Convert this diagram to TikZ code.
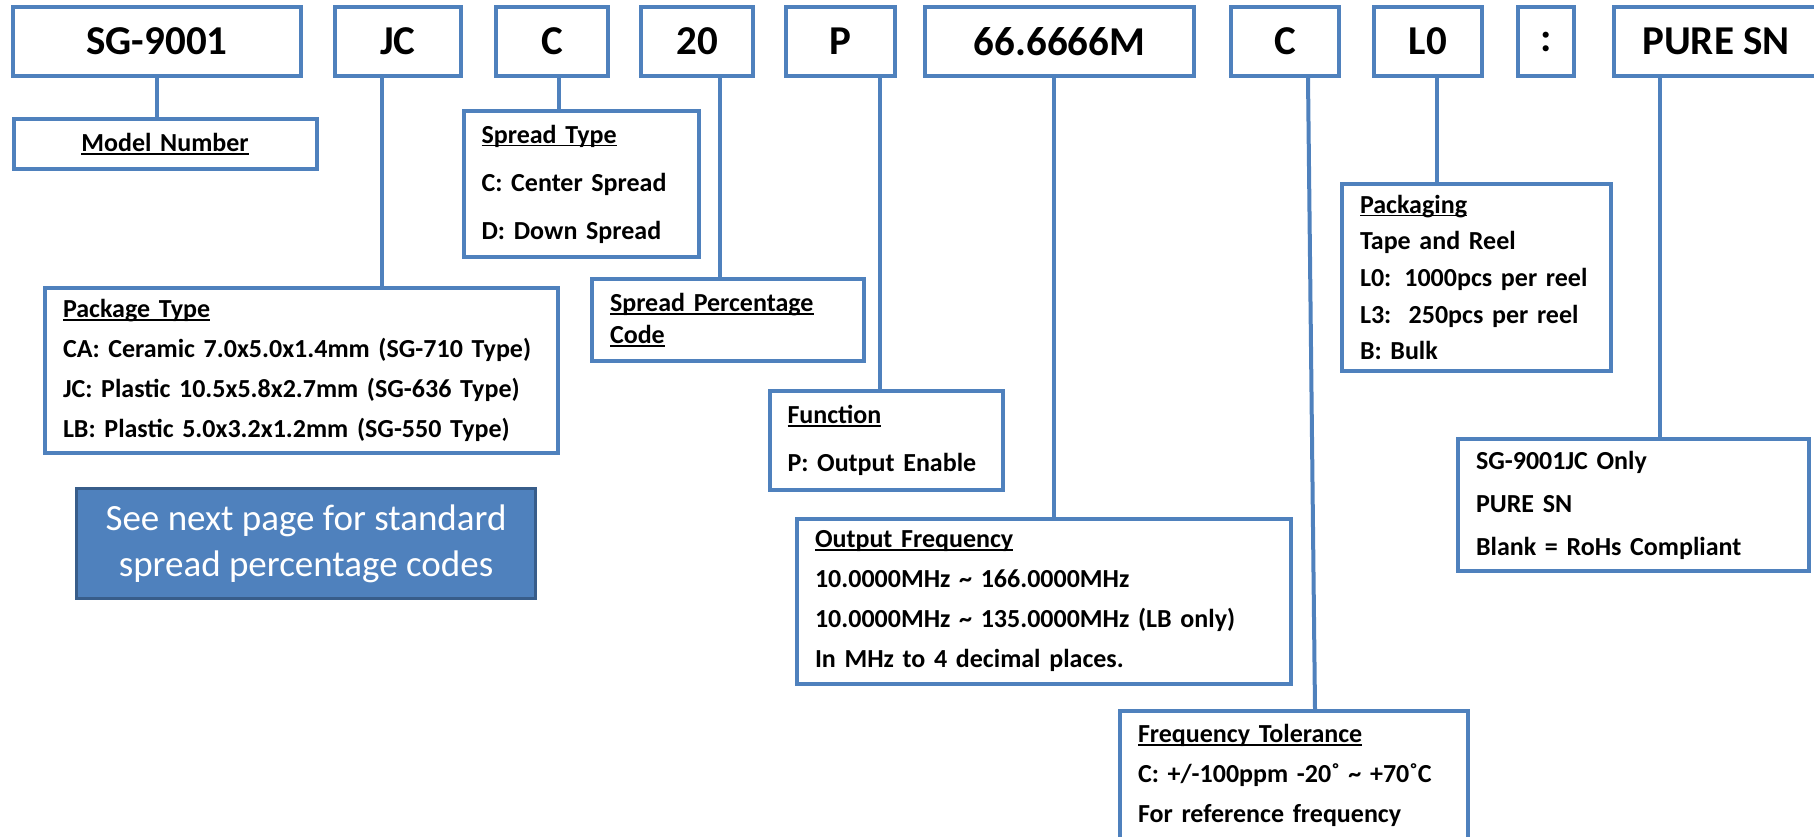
\documentclass[tikz,border=0pt]{standalone}
\usepackage{fontspec}
\setmainfont{Carlito}
\usepackage{tikz}
\definecolor{boxblue}{RGB}{79,129,189}
\definecolor{noteedge}{RGB}{56,93,138}
\newcommand{\hd}[1]{\leavevmode\setbox0\hbox{#1}\rlap{\rule[-3pt]{\wd0}{1.5pt}}\box0}

\begin{document}
\begin{tikzpicture}[x=1pt,y=-1pt,
    code/.style={draw=boxblue,line width=4pt,minimum height=69pt,inner sep=0pt,font=\fontsize{41}{49}\selectfont\bfseries},
    info/.style={draw=boxblue,line width=4pt,align=left,inner xsep=18pt,inner ysep=0pt,font=\fontsize{26}{#1}\selectfont\bfseries},
    info/.default=40pt,
    link/.style={draw=boxblue,line width=4pt}]
\useasboundingbox (0,0) rectangle (1814,836);

\node[code,minimum width=287.5pt] (sg) at (157,41.5) {SG-9001};
\node[code,minimum width=125.5pt] (jc) at (398,41.5) {JC};
\node[code,minimum width=111.5pt] (spread) at (552,41.5) {C};
\node[code,minimum width=112pt] (pct) at (697,41.5) {20};
\node[code,minimum width=109.4pt] (fn) at (840.3,41.5) {P};
\node[code,minimum width=269pt] (freq) at (1059.5,41.5) {66.6666M};
\node[code,minimum width=108pt] (tol) at (1285,41.5) {C};
\node[code,minimum width=108pt] (pack) at (1428,41.5) {L0};
\node[code,minimum width=56pt] (colon) at (1546,41.5) {:};
\node[code,minimum width=204pt] (sn) at (1716,41.5) {PURE SN};

\node[info,align=center,text width=267pt,minimum height=50pt] (model) at (165,144) {\hd{Model Number}};
\node[info,text width=477pt,minimum height=165pt] (pkgtype) at (301.5,370.5)
    {\hd{Package Type}\\CA: Ceramic 7.0x5.0x1.4mm (SG-710 Type)\\JC: Plastic 10.5x5.8x2.7mm (SG-636 Type)\\LB: Plastic 5.0x3.2x1.2mm (SG-550 Type)};
\node[info=48pt,text width=199.4pt,minimum height=146pt] (stype) at (581.3,184)
    {\hd{Spread Type}\\C: Center Spread\\D: Down Spread};
\node[info=32pt,text width=235.6pt,minimum height=82pt] (spct) at (727.8,320)
    {\hd{Spread Percentage}\\\hd{Code}};
\node[info=48pt,text width=197pt,minimum height=99pt] (func) at (886,440.5)
    {\hd{Function}\\P: Output Enable};
\node[info,text width=458pt,minimum height=165pt] (ofreq) at (1044,601.5)
    {\hd{Output Frequency}\\10.0000MHz \textasciitilde{} 166.0000MHz\\10.0000MHz \textasciitilde{} 135.0000MHz (LB only)\\In MHz to 4 decimal places.};
\node[info,text width=312pt,minimum height=129pt] (ftol) at (1294,775.5)
    {\hd{Frequency Tolerance}\\C: +/-100ppm -20˚ \textasciitilde{} +70˚C\\For reference frequency};
\node[info=36.7pt,text width=233pt,minimum height=187pt] (packg) at (1476.5,277.5)
    {\hd{Packaging}\\Tape and Reel\\L0: 1000pcs per reel\\L3:\ \ 250pcs per reel\\B: Bulk};
\node[info=43pt,text width=315pt,minimum height=132pt] (rohs) at (1633.5,505)
    {SG-9001JC Only\\PURE SN\\Blank = RoHs Compliant};

\node[draw=noteedge,fill=boxblue,line width=3pt,minimum width=459pt,minimum height=110pt,
    align=center,text=white,font=\fontsize{37}{46}\selectfont] (note) at (306,543.5)
    {See next page for standard\\spread percentage codes};

\coordinate (jcx) at ([xshift=-16pt]jc.south);
\coordinate (spreadx) at ([xshift=6.5pt]spread.south);
\coordinate (pctx) at ([xshift=23pt]pct.south);
\coordinate (fnx) at ([xshift=40pt]fn.south);
\coordinate (freqx) at ([xshift=-6pt]freq.south);
\coordinate (tolx) at ([xshift=23pt]tol.south);
\coordinate (ftolx) at ([xshift=21pt]ftol.north);
\coordinate (packx) at ([xshift=9pt]pack.south);
\coordinate (snx) at ([xshift=-56pt]sn.south);

\draw[link] (sg.south) -- (sg.south |- model.north);
\draw[link] (jcx) -- (jcx |- pkgtype.north);
\draw[link] (spreadx) -- (spreadx |- stype.north);
\draw[link] (pctx) -- (pctx |- spct.north);
\draw[link] (fnx) -- (fnx |- func.north);
\draw[link] (freqx) -- (freqx |- ofreq.north);
\draw[link] (tolx) -- (ftolx);
\draw[link] (packx) -- (packx |- packg.north);
\draw[link] (snx) -- (snx |- rohs.north);
\end{tikzpicture}
\end{document}
